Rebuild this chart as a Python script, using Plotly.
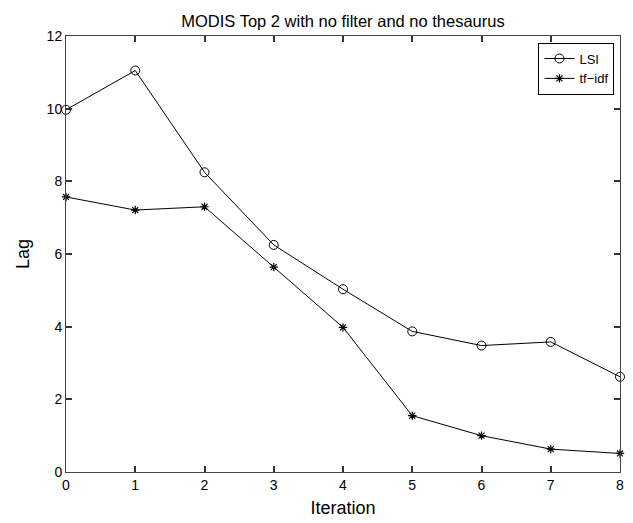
import plotly.graph_objects as go

iterations = [0, 1, 2, 3, 4, 5, 6, 7, 8]
lsi = [9.97, 11.05, 8.25, 6.25, 5.03, 3.87, 3.48, 3.58, 2.62]
tfidf = [7.57, 7.21, 7.30, 5.64, 3.98, 1.55, 1.00, 0.63, 0.51]
x_ticks = [0, 1, 2, 3, 4, 5, 6, 7, 8]
y_ticks = [0, 2, 4, 6, 8, 10, 12]

font = "Liberation Sans, Arial, sans-serif"

W, H = 625, 515  # page body has an 8px margin

fig = go.Figure()
fig.add_trace(go.Scatter(
    x=iterations, y=lsi, mode="lines+markers", name="LSI", cliponaxis=False,
    line=dict(color="black", width=1),
    marker=dict(symbol="circle-open", size=9, color="black", line=dict(width=1)),
))
fig.add_trace(go.Scatter(
    x=iterations, y=tfidf, mode="lines+markers", name="tf\u2212idf", cliponaxis=False,
    line=dict(color="black", width=1),
    marker=dict(symbol="asterisk-open", size=7, color="black", line=dict(width=1.2)),
))

axis_common = dict(
    showgrid=False, zeroline=False, showline=True, linecolor="#444", linewidth=1,
    mirror="allticks", ticks="inside", ticklen=6, tickwidth=1.5, tickcolor="#333",
    tickfont=dict(family=font, size=14, color="black"),
)

fig.update_layout(
    width=W, height=H,
    margin=dict(l=58, r=9, t=28, b=48),
    paper_bgcolor="white", plot_bgcolor="white",
    title=dict(text="MODIS Top 2 with no filter and no thesaurus", x=0.5, xref="paper", xanchor="center",
               y=1 - 13 / H, yref="container", yanchor="middle",
               font=dict(family=font, size=16.5, color="black")),
    xaxis=dict(range=[0, 8], tickvals=x_ticks, ticktext=[str(v) for v in x_ticks],
               title=dict(text="Iteration", font=dict(family=font, size=18, color="black"), standoff=9),
               **axis_common),
    yaxis=dict(range=[0, 12], tickvals=y_ticks, ticktext=[str(v) for v in y_ticks],
               title=dict(text="Lag", font=dict(family=font, size=18, color="black"), standoff=12),
               **axis_common),
    legend=dict(x=0.99, y=0.985, xanchor="right", yanchor="top",
                bordercolor="black", borderwidth=1, bgcolor="white",
                font=dict(family=font, size=13, color="black"),
                tracegroupgap=0, itemwidth=30),
    showlegend=True,
)

fig.write_html("out.html")
